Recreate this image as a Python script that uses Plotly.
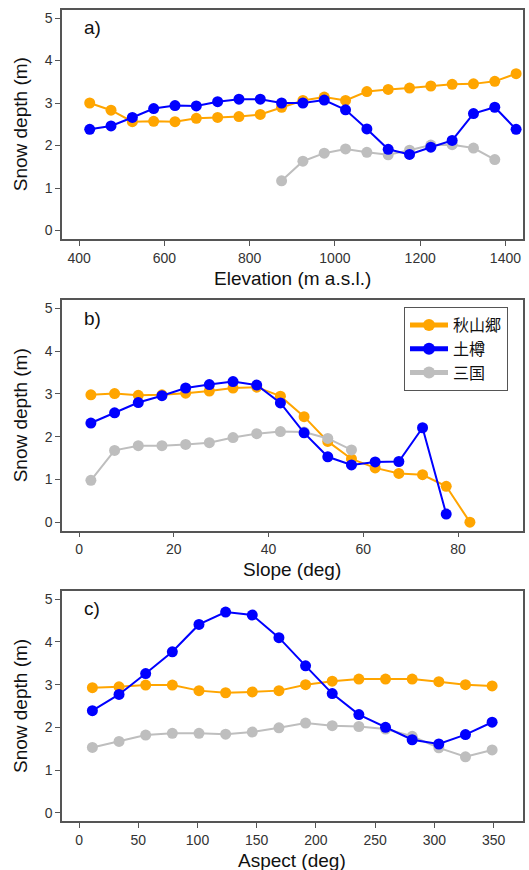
import plotly.graph_objects as go

# ---------------- data ----------------
series_names = ["秋山郷", "土樽", "三国"]

elev_x = [425, 475, 525, 575, 625, 675, 725, 775, 825, 875, 925, 975, 1025,
          1075, 1125, 1175, 1225, 1275, 1325, 1375, 1425]
elev_akiyama = [3.00, 2.83, 2.56, 2.57, 2.56, 2.64, 2.66, 2.68, 2.73, 2.90, 3.06,
                3.14, 3.06, 3.27, 3.32, 3.35, 3.40, 3.44, 3.45, 3.51, 3.69]
elev_tsuchitaru = [2.38, 2.46, 2.66, 2.87, 2.94, 2.93, 3.03, 3.09, 3.09, 3.00, 3.00,
                   3.07, 2.84, 2.39, 1.91, 1.79, 1.96, 2.12, 2.75, 2.90, 2.38]
elev_mikuni_x = [875, 925, 975, 1025, 1075, 1125, 1175, 1225, 1275, 1325, 1375]
elev_mikuni = [1.17, 1.63, 1.82, 1.92, 1.84, 1.78, 1.89, 2.01, 2.02, 1.94, 1.67]

slope_x = [2.5, 7.5, 12.5, 17.5, 22.5, 27.5, 32.5, 37.5, 42.5, 47.5, 52.5, 57.5,
           62.5, 67.5, 72.5, 77.5, 82.5]
slope_akiyama = [2.98, 3.01, 2.97, 2.98, 3.02, 3.07, 3.14, 3.16, 2.95, 2.47, 1.89,
                 1.48, 1.27, 1.14, 1.11, 0.84, 0.00]
slope_tsuchitaru_x = slope_x[:16]
slope_tsuchitaru = [2.32, 2.56, 2.80, 2.96, 3.14, 3.22, 3.29, 3.21, 2.79, 2.09, 1.53,
                    1.34, 1.41, 1.42, 2.21, 0.19]
slope_mikuni_x = slope_x[:12]
slope_mikuni = [0.98, 1.68, 1.79, 1.79, 1.82, 1.86, 1.98, 2.07, 2.12, 2.11, 1.96, 1.69]

aspect_x = [11.25, 33.75, 56.25, 78.75, 101.25, 123.75, 146.25, 168.75, 191.25,
            213.75, 236.25, 258.75, 281.25, 303.75, 326.25, 348.75]
aspect_akiyama = [2.93, 2.95, 2.99, 2.99, 2.86, 2.81, 2.83, 2.86, 3.00, 3.08, 3.13,
                  3.13, 3.13, 3.07, 3.00, 2.97]
aspect_tsuchitaru = [2.39, 2.77, 3.26, 3.77, 4.41, 4.70, 4.63, 4.10, 3.44, 2.79, 2.30,
                     2.00, 1.71, 1.61, 1.83, 2.12]
aspect_mikuni = [1.53, 1.67, 1.82, 1.86, 1.86, 1.84, 1.89, 1.99, 2.10, 2.04, 2.02,
                 1.96, 1.79, 1.52, 1.31, 1.47]

y_ticks = [0, 1, 2, 3, 4, 5]
x_titles = ["Elevation (m a.s.l.)", "Slope (deg)", "Aspect (deg)"]
y_title = "Snow depth (m)"
panel_labels = ["a)", "b)", "c)"]

# ---------------- styling ----------------
W, H = 529, 870
colors = {"秋山郷": "#FFA500", "土樽": "#0000FF", "三国": "#BEBEBE"}
FONT = "Liberation Sans, Arial, sans-serif"
CJK = "Liberation Sans, Noto Sans CJK JP, sans-serif"

def px(x):
    return x / W

def py(y):
    return 1 - y / H

left, right = 62, 522.5
tops = [9.5, 300, 590.7]
bottoms = [239, 530.7, 821.3]
x_ranges = [[360, 1440], [-3.6, 93.6], [-14.4, 374.4]]
x_dticks = [200, 20, 50]
x_tick0 = [400, 0, 0]

panels = [
    [(elev_x, elev_akiyama, "秋山郷"), (elev_mikuni_x, elev_mikuni, "三国"),
     (elev_x, elev_tsuchitaru, "土樽")],
    [(slope_x, slope_akiyama, "秋山郷"), (slope_mikuni_x, slope_mikuni, "三国"),
     (slope_tsuchitaru_x, slope_tsuchitaru, "土樽")],
    [(aspect_x, aspect_akiyama, "秋山郷"), (aspect_x, aspect_mikuni, "三国"),
     (aspect_x, aspect_tsuchitaru, "土樽")],
]
rank = {"秋山郷": 1, "土樽": 2, "三国": 3}

fig = go.Figure()
for i, traces in enumerate(panels):
    ax = "" if i == 0 else str(i + 1)
    for xs, ys, name in traces:
        fig.add_trace(go.Scatter(
            x=xs, y=ys, name=name, mode="lines+markers",
            line=dict(color=colors[name], width=2),
            marker=dict(color=colors[name], size=11),
            xaxis="x" + ax, yaxis="y" + ax,
            showlegend=(i == 1), legendrank=rank[name], cliponaxis=True,
        ))

layout = dict(
    width=W, height=H,
    margin=dict(l=0, r=0, t=0, b=0),
    paper_bgcolor="white", plot_bgcolor="white",
    font=dict(family=FONT, size=14, color="#333"),
    showlegend=True,
    legend=dict(
        x=px(404), y=py(307), xanchor="left", yanchor="top",
        bordercolor="#555", borderwidth=1, bgcolor="white",
        font=dict(family=CJK, size=16, color="#111"),
        itemsizing="constant", itemwidth=38, tracegroupgap=0,
    ),
)
annotations = []
axis_common = dict(
    showgrid=False, zeroline=False, showline=True, linecolor="#555", linewidth=1.5,
    mirror=True, ticks="outside", ticklen=5, tickwidth=1.2, tickcolor="#555",
    tickfont=dict(size=14, color="#333", family=FONT),
)
for i in range(3):
    ax = "" if i == 0 else str(i + 1)
    layout["xaxis" + ax] = dict(
        axis_common, domain=[px(left), px(right)], range=x_ranges[i],
        tick0=x_tick0[i], dtick=x_dticks[i], anchor="y" + ax,
    )
    layout["yaxis" + ax] = dict(
        axis_common, domain=[py(bottoms[i]), py(tops[i])], range=[-0.2, 5.2],
        tickvals=y_ticks, anchor="x" + ax,
    )
    annotations.append(dict(
        text=x_titles[i], xref="paper", yref="paper",
        x=px((left + right) / 2), y=py(bottoms[i] + 39),
        xanchor="center", yanchor="middle", showarrow=False,
        font=dict(size=19, color="#111", family=FONT),
    ))
    annotations.append(dict(
        text=y_title, xref="paper", yref="paper", textangle=-90,
        x=px(20), y=py((tops[i] + bottoms[i]) / 2),
        xanchor="center", yanchor="middle", showarrow=False,
        font=dict(size=19, color="#111", family=FONT),
    ))
    annotations.append(dict(
        text=panel_labels[i], xref="paper", yref="paper",
        x=px(82), y=py(tops[i] + 18),
        xanchor="left", yanchor="middle", showarrow=False,
        font=dict(size=19, color="#111", family=FONT),
    ))
layout["annotations"] = annotations
fig.update_layout(**layout)
fig.write_html(
    "out.html",
    config={"displayModeBar": False},
    post_script="document.body.style.margin='0';document.body.style.overflow='hidden';",
)
